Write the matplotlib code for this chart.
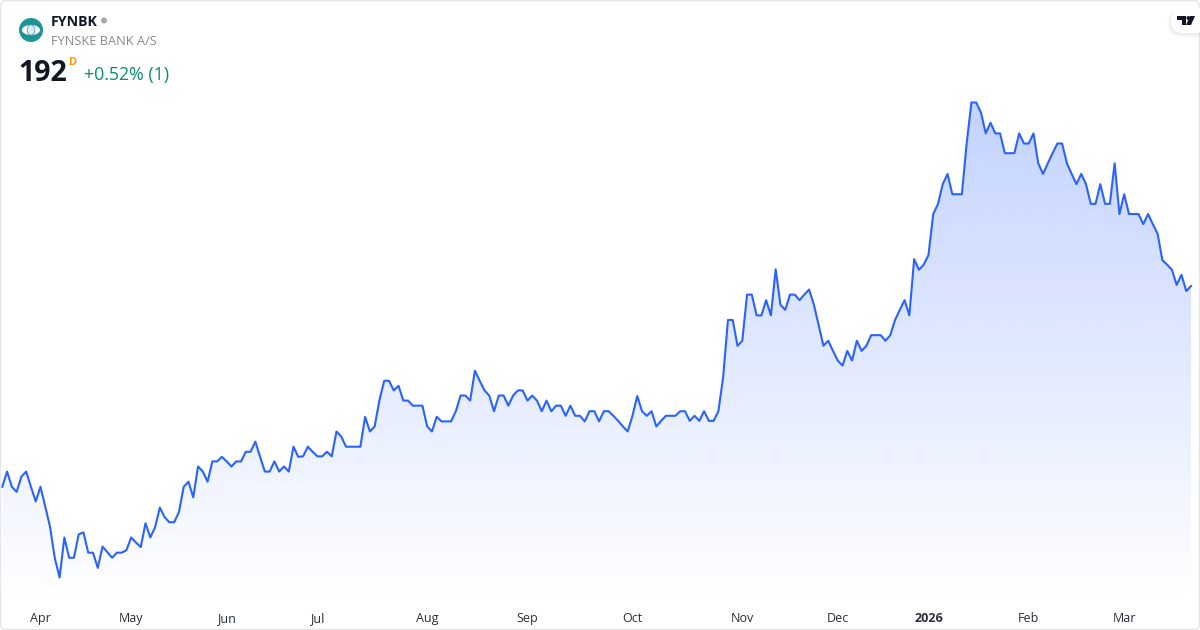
#!/usr/bin/env python3

import numpy as np
import matplotlib
matplotlib.use('Agg')
import matplotlib.pyplot as plt
from matplotlib.patches import Circle, Ellipse, FancyBboxPatch, Polygon

plt.rcParams['font.family'] = ['Open Sans', 'DejaVu Sans']

# daily closes
prices = [
    152.4, 155.4, 152.4, 151.4, 154.4, 155.4, 152.4, 149.5, 152.4, 148.5,
    144.5, 138.3, 134.5, 142.4, 138.4, 138.4, 143.0, 143.4, 139.4, 139.4,
    136.4, 140.6, 139.5, 138.4, 139.4, 139.4, 139.9, 142.4, 141.4, 140.5,
    145.2, 142.4, 144.4, 148.3, 146.4, 145.4, 145.4, 147.4, 152.4, 153.4,
    150.3, 156.4, 155.4, 153.4, 157.4, 157.4, 158.3, 157.4, 156.4, 157.4,
    157.4, 159.3, 159.3, 161.3, 158.3, 155.4, 155.4, 157.4, 155.4, 156.4,
    155.4, 160.3, 158.3,
    158.4, 160.3, 159.3, 158.4, 158.4, 159.3, 158.4, 163.3, 162.3, 160.3,
    160.3, 160.3, 160.3, 166.2, 163.3, 164.3, 169.5, 173.3, 173.3, 171.4,
    172.3, 169.4, 169.4, 168.4, 168.4, 168.4, 164.3, 163.3, 166.2, 165.3,
    165.3, 165.3, 167.3, 170.4, 170.4, 169.4, 175.3, 173.3, 171.4, 170.4,
    167.3, 170.4, 170.4, 168.4, 170.4, 171.4, 171.4, 169.4, 170.4, 169.4,
    167.3, 169.4, 167.3, 168.4, 168.4, 166.4, 168.4, 166.4, 166.4, 165.3,
    167.3, 167.3, 165.3,
    167.3, 167.3, 166.4, 165.4, 164.3, 163.3, 166.4, 170.3, 167.3, 166.4, 167.3,
    164.3, 165.4, 166.4, 166.4, 166.4, 167.3, 167.3, 165.4, 166.4, 165.4,
    167.3, 165.4, 165.4, 167.3, 174.1, 185.3, 185.3, 180.2, 181.2, 190.3,
    190.3, 186.2, 186.2, 189.2, 186.2, 195.3, 188.3, 187.3, 190.3, 190.3,
    189.2, 190.3, 191.3, 188.3, 184.3, 180.2, 181.2, 179.2, 177.3, 176.3,
    179.2, 177.3, 181.2, 179.2, 180.2, 182.3, 182.3, 182.3, 181.2, 182.3,
    185.3, 187.3, 189.2, 186.2,
    197.3, 195.2, 196.2, 198.1, 206.2, 208.2, 212.1, 214.1, 210.1, 210.1,
    210.1, 220.1, 228.2, 228.2, 226.2, 222.1, 224.2, 222.1, 222.1, 218.2,
    218.2, 218.2, 222.1, 220.1, 220.1, 222.1, 216.2, 214.1, 216.2, 218.2,
    220.1, 220.1, 216.2, 214.1, 212.1, 214.1, 212.1, 208.2, 208.2, 212.1,
    208.2, 208.2, 216.2, 206.2, 210.1, 206.2, 206.2, 206.2, 204.2, 206.2,
    204.2, 202.3, 197.1, 196.2, 195.2, 192.2, 194.2, 191.0, 192.0,
]
tick_idx = [8, 27, 47, 66, 89, 110, 132, 155, 175, 194, 215, 235]
tick_labels = ['Apr', 'May', 'Jun', 'Jul', 'Aug', 'Sep', 'Oct', 'Nov', 'Dec',
               '2026', 'Feb', 'Mar']

W, H = 1200, 630
PLOT_BOTTOM = 602
X0, X_STEP = 2.3, 4.774
Y_192, Y_UNIT = 286.0, 5.07
LINE = '#2962FF'

fig = plt.figure(figsize=(W / 100, H / 100), dpi=100, facecolor='white')
ax = fig.add_axes([0, 1 - PLOT_BOTTOM / H, 1, PLOT_BOTTOM / H])

x = np.arange(len(prices))
y = np.array(prices)
ax.set_xlim(-X0 / X_STEP, (W - X0) / X_STEP)
ax.set_ylim(192 + (Y_192 - PLOT_BOTTOM) / Y_UNIT, 192 + Y_192 / Y_UNIT)

# area gradient, from the highest close down to the bottom of the pane
n = 256
grad = np.zeros((n, 1, 4))
grad[:, 0, :3] = matplotlib.colors.to_rgb(LINE)
grad[:, 0, 3] = np.linspace(0.28, 0.0, n)
y_min = ax.get_ylim()[0]
img = ax.imshow(grad, aspect='auto', origin='upper', zorder=1,
                extent=[x[0], x[-1], y_min, y.max()], interpolation='bilinear')
ax.set_xlim(-X0 / X_STEP, (W - X0) / X_STEP)
ax.set_ylim(y_min, 192 + Y_192 / Y_UNIT)
area = Polygon(np.column_stack([np.r_[x[0], x, x[-1]], np.r_[y_min, y, y_min]]),
               closed=True, transform=ax.transData, facecolor='none', edgecolor='none')
ax.add_patch(area)
img.set_clip_path(area)

ax.plot(x, y, color=LINE, lw=1.5, solid_joinstyle='round', zorder=2)

for s in ax.spines.values():
    s.set_visible(False)
ax.set_yticks([])
ax.set_xticks(tick_idx)
ax.set_xticklabels(tick_labels, fontsize=9.0, color='#2A2E39', va='baseline')
ax.tick_params(axis='x', length=0, pad=14.4)
ax.get_xticklabels()[tick_labels.index('2026')].set_fontweight('bold')

# overlay in pixel coordinates for the header, logos and card border
ov = fig.add_axes([0, 0, 1, 1], facecolor='none')
ov.set_xlim(0, W)
ov.set_ylim(H, 0)
ov.axis('off')

ov.add_patch(FancyBboxPatch((0.5, 0.5), W - 1, H - 1, boxstyle='round,pad=0,rounding_size=6',
                            fc='none', ec='#E6E6E6', lw=1.0))

ov.add_patch(Circle((31, 30), 12, fc='#1F9596', ec='none'))
ov.add_patch(Ellipse((31, 30), 18, 10, fc='white', ec='none'))
ov.add_patch(Ellipse((31, 30), 7.5, 10, fc='#E3EAF5', ec='#5FB3B5', lw=0.7))

ov.text(51, 26, 'FYNBK', fontsize=10.2, fontweight='bold', color='#131722')
ov.add_patch(Circle((104, 20.5), 3, fc='#A3A6AF', ec='none'))
ov.text(51, 45, 'FYNSKE BANK A/S', fontsize=9.2, color='#868993')
ov.text(18.5, 81, '192', fontsize=20.6, fontweight='bold', color='#131722')
ov.text(69, 65, 'D', fontsize=7.9, fontweight='bold', color='#FF9800')
ov.text(84, 80, '+0.52% (1)', fontsize=12.8, color='#0B8A74')

# TradingView badge, soft shadow then white pill
for grow, a in [(4, 0.012), (3, 0.015), (2, 0.02), (1, 0.025)]:
    ov.add_patch(FancyBboxPatch((1171 - grow, 8 + 1), 45 + grow, 25 + grow,
                                boxstyle='round,pad=0,rounding_size=%d' % (12 + grow),
                                fc='black', ec='none', alpha=a))
ov.add_patch(FancyBboxPatch((1171, 8), 45, 25, boxstyle='round,pad=0,rounding_size=12',
                            fc='white', ec='none'))
ov.add_patch(Polygon([(1177, 16), (1186, 16), (1186, 25), (1181.5, 25), (1181.5, 20), (1177, 20)],
                     fc='#131722', ec='none'))
ov.add_patch(Circle((1188.3, 18), 1.9, fc='#131722', ec='none'))
ov.add_patch(Polygon([(1190, 16), (1195, 16), (1191, 25), (1186, 25)], fc='#131722', ec='none'))

fig.savefig('out.png', dpi=100, facecolor='white')
